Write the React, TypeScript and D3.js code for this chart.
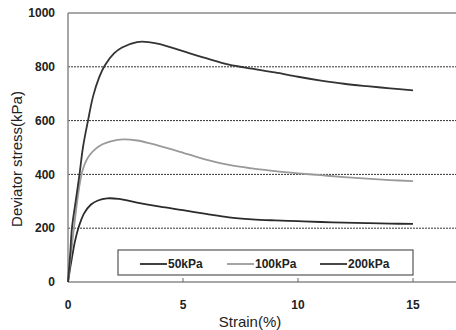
import React from "react";
import * as d3 from "d3";

const strain50 = [0, 0.1, 0.2, 0.3, 0.45, 0.7, 1.0, 1.3, 1.7, 2.2, 3, 4, 5, 6, 7, 8, 9, 10, 11, 12, 13, 14, 15];
const stress50 = [0, 55, 105, 150, 200, 255, 288, 303, 311, 309, 295, 280, 267, 253, 240, 233, 229, 226, 223, 221, 219, 217, 216];

const strain100 = [0, 0.1, 0.25, 0.4, 0.52, 0.65, 0.8, 0.96, 1.2, 1.5, 1.9, 2.4, 3.0, 3.57, 4.87, 6, 7, 8, 9, 10, 11, 12, 13, 14, 15];
const stress100 = [0, 80, 195, 300, 370, 420, 452, 474, 495, 512, 524, 530, 526, 515, 484, 455, 435, 422, 412, 404, 397, 390, 384, 379, 375];

const strain200 = [0, 0.1, 0.17, 0.35, 0.5, 0.65, 0.87, 1.09, 1.35, 1.6, 2.0, 2.35, 3.0, 3.5, 4.0, 5, 6, 7, 8, 9, 10, 11, 12, 13, 14, 15];
const stress200 = [0, 110, 200, 310, 400, 500, 600, 690, 760, 805, 850, 872, 892, 892, 884, 858, 832, 808, 793, 779, 763, 749, 737, 728, 720, 712];

const seriesNames = ["50kPa", "100kPa", "200kPa"];
const seriesColors = ["#2b2b2b", "#9a9a9a", "#333333"];
const xTicks = [0, 5, 10, 15];
const yTicks = [0, 200, 400, 600, 800, 1000];
const gridTicks = [200, 400, 600, 800];

export default function App() {
  const W = 456, H = 330;
  const left = 68, top = 13, bottom = 282;
  const x = d3.scaleLinear().domain([0, 15]).range([left, 413]);
  const y = d3.scaleLinear().domain([0, 1000]).range([bottom, top]);
  const line = d3.line<[number, number]>().x(d => x(d[0])).y(d => y(d[1])).curve(d3.curveCatmullRom.alpha(0.5));
  const series = [
    strain50.map((s, i) => [s, stress50[i]] as [number, number]),
    strain100.map((s, i) => [s, stress100[i]] as [number, number]),
    strain200.map((s, i) => [s, stress200[i]] as [number, number]),
  ];
  const legendX = [140, 227, 320];
  const font = "'Liberation Sans', Arial, sans-serif";
  return (
    <svg width={W} height={H} style={{ position: "absolute", left: 0, top: 0, background: "#fff" }}>
      <rect x={0} y={0} width={W} height={H} fill="#fff" />
      {gridTicks.map(t => (
        <line key={t} x1={left} x2={W} y1={y(t)} y2={y(t)} stroke="#333" strokeWidth={1} strokeDasharray="2,1" />
      ))}
      <line x1={left} x2={W} y1={y(1000)} y2={y(1000)} stroke="#8a8a8a" strokeWidth={1.5} />
      <line x1={left} x2={left} y1={top} y2={bottom} stroke="#8a8a8a" strokeWidth={1.5} />
      <line x1={left} x2={W} y1={bottom} y2={bottom} stroke="#8a8a8a" strokeWidth={1.5} />
      {xTicks.slice(1).map(t => (
        <line key={t} x1={x(t)} x2={x(t)} y1={bottom} y2={bottom - 4} stroke="#666" strokeWidth={1} />
      ))}
      {series.map((d, i) => (
        <path key={i} d={line(d) || ""} fill="none" stroke={seriesColors[i]} strokeWidth={1.8} />
      ))}
      {yTicks.map(t => (
        <text key={t} x={55} y={y(t)} dy="0.35em" textAnchor="end" fontFamily={font} fontWeight="bold" fontSize={12} fill="#222">{t}</text>
      ))}
      {xTicks.map(t => (
        <text key={t} x={x(t)} y={305} dy="0.35em" textAnchor="middle" fontFamily={font} fontWeight="bold" fontSize={12} fill="#222">{t}</text>
      ))}
      <text x={250} y={322} dy="0.35em" textAnchor="middle" fontFamily={font} fontSize={15} fill="#222">Strain(%)</text>
      <text transform="translate(17,159) rotate(-90)" dy="0.35em" textAnchor="middle" fontFamily={font} fontSize={15} fill="#222">Deviator stress(kPa)</text>
      <rect x={118} y={250} width={295} height={25} fill="#fff" stroke="#555" strokeWidth={1.2} />
      {seriesNames.map((n, i) => (
        <g key={n}>
          <line x1={legendX[i]} x2={legendX[i] + 27} y1={264} y2={264} stroke={seriesColors[i]} strokeWidth={1.8} />
          <text x={legendX[i] + 28} y={264} dy="0.35em" fontFamily={font} fontWeight="bold" fontSize={12} fill="#222">{n}</text>
        </g>
      ))}
    </svg>
  );
}
